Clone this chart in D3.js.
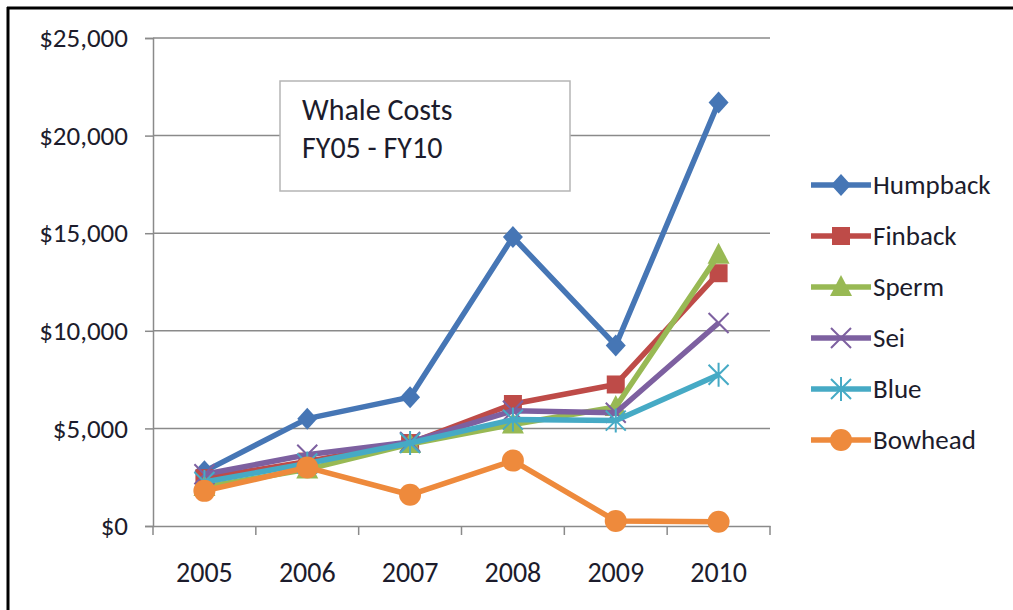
<!DOCTYPE html>
<html>
<head>
<meta charset="utf-8">
<script src="https://cdn.jsdelivr.net/npm/d3@7"></script>
<style>
  body { margin: 0; background: #fff; }
  svg { display: block; font-family: Calibri, Carlito, "Open Sans", "Noto Sans", sans-serif; }
</style>
</head>
<body>
<svg id="chart" width="1013" height="610"></svg>
<script>
const years = ['2005', '2006', '2007', '2008', '2009', '2010'];
const seriesNames = ['Humpback', 'Finback', 'Sperm', 'Sei', 'Blue', 'Bowhead'];
const humpback = [2800, 5500, 6600, 14800, 9250, 21700];
const finback = [2450, 3300, 4250, 6250, 7250, 12950];
const sperm = [2000, 2900, 4200, 5200, 6100, 13900];
const sei = [2650, 3650, 4300, 5900, 5800, 10400];
const blue = [2250, 3200, 4250, 5450, 5400, 7750];
const bowhead = [1800, 3000, 1600, 3350, 260, 220];
const yTicks = [0, 5000, 10000, 15000, 20000, 25000];
const titleLines = ['Whale Costs', 'FY05 - FY10'];

const seriesValues = [humpback, finback, sperm, sei, blue, bowhead];
const colors = ['#4676B5', '#BE4B48', '#98B954', '#7D60A0', '#46AAC5', '#EE8A3C'];
const markers = ['diamond', 'square', 'triangle', 'x', 'star', 'circle'];
const textColor = '#1c1c2c';
const fontStack = 'Calibri, Carlito, "Open Sans", sans-serif';

const svg = d3.select('#chart');
const plot = { left: 153, right: 770, top: 38, bottom: 526 };

const x = d3.scaleBand().domain(years).range([plot.left, plot.right]);
const y = d3.scaleLinear().domain([0, 25000]).range([plot.bottom, plot.top]);

// outer frame (left and top edges only)
svg.append('line').attr('x1', 8).attr('x2', 8).attr('y1', 7).attr('y2', 610)
  .attr('stroke', '#000').attr('stroke-width', 3);
svg.append('line').attr('x1', 7).attr('x2', 1013).attr('y1', 8).attr('y2', 8)
  .attr('stroke', '#000').attr('stroke-width', 3);

// gridlines
svg.append('g').selectAll('line')
  .data(yTicks.filter((d) => d > 0))
  .join('line')
  .attr('x1', plot.left).attr('x2', plot.right)
  .attr('y1', (d) => y(d)).attr('y2', (d) => y(d))
  .attr('stroke', '#8a8a8a').attr('stroke-width', 1.5);

// y axis
const yAxis = svg.append('g')
  .attr('transform', `translate(${plot.left},0)`)
  .call(d3.axisLeft(y).tickValues(yTicks).tickSize(8).tickPadding(17)
    .tickFormat((d) => '$' + d3.format(',')(d)));
yAxis.select('.domain').attr('stroke', '#8a8a8a').attr('stroke-width', 1.5);
yAxis.selectAll('.tick line').attr('stroke', '#8a8a8a').attr('stroke-width', 1.5);
yAxis.selectAll('.tick text').attr('font-size', 27).attr('fill', textColor)
  .attr('font-family', fontStack);

// x axis
const xAxis = svg.append('g')
  .attr('transform', `translate(0,${plot.bottom})`)
  .call(d3.axisBottom(x).tickSize(0).tickPadding(36));
xAxis.select('.domain').attr('stroke', '#8a8a8a').attr('stroke-width', 1.5);
xAxis.selectAll('.tick text').attr('font-size', 28).attr('fill', textColor)
  .attr('font-family', fontStack);
xAxis.append('g').selectAll('line')
  .data(years.map((d) => x(d)).concat([plot.right]))
  .join('line')
  .attr('x1', (d) => d).attr('x2', (d) => d)
  .attr('y1', 0).attr('y2', 9)
  .attr('stroke', '#8a8a8a').attr('stroke-width', 1.5);

// marker drawing
function drawMarker(sel, type, color) {
  if (type === 'diamond') {
    sel.append('path').attr('d', 'M0,-11L10,0L0,11L-10,0Z').attr('fill', color);
  } else if (type === 'square') {
    sel.append('rect').attr('x', -9).attr('y', -9).attr('width', 18).attr('height', 18).attr('fill', color);
  } else if (type === 'triangle') {
    sel.append('path').attr('d', 'M0,-12L11,9L-11,9Z').attr('fill', color);
  } else if (type === 'x') {
    sel.append('path').attr('d', 'M-10,-10L10,10M-10,10L10,-10').attr('stroke', color).attr('stroke-width', 2);
  } else if (type === 'star') {
    sel.append('path').attr('d', 'M-10,-10L10,10M-10,10L10,-10M0,-12L0,12').attr('stroke', color).attr('stroke-width', 2);
  } else if (type === 'circle') {
    sel.append('circle').attr('r', 11).attr('fill', color);
  }
}

const line = d3.line()
  .x((d, i) => x(years[i]) + x.bandwidth() / 2)
  .y((d) => y(d));

// series
seriesNames.forEach((name, si) => {
  const g = svg.append('g');
  g.append('path')
    .datum(seriesValues[si])
    .attr('d', line)
    .attr('fill', 'none')
    .attr('stroke', colors[si])
    .attr('stroke-width', 5.5)
    .attr('stroke-linejoin', 'round');
  seriesValues[si].forEach((v, i) => {
    const m = g.append('g')
      .attr('transform', `translate(${x(years[i]) + x.bandwidth() / 2},${y(v)})`);
    drawMarker(m, markers[si], colors[si]);
  });
});

// title box
svg.append('rect')
  .attr('x', 280).attr('y', 81).attr('width', 290).attr('height', 110)
  .attr('fill', '#fff').attr('stroke', '#b5b5b5').attr('stroke-width', 1.5);
svg.append('g').selectAll('text')
  .data(titleLines)
  .join('text')
  .attr('x', 302)
  .attr('y', (d, i) => 120 + i * 38)
  .attr('font-size', 30)
  .attr('font-family', fontStack)
  .attr('fill', textColor)
  .text((d) => d);

// legend
const legend = svg.append('g');
seriesNames.forEach((name, si) => {
  const ly = 185 + si * 51;
  const lg = legend.append('g');
  lg.append('line').attr('x1', 811).attr('x2', 871).attr('y1', ly).attr('y2', ly)
    .attr('stroke', colors[si]).attr('stroke-width', 5.5);
  const m = lg.append('g').attr('transform', `translate(841,${ly})`);
  drawMarker(m, markers[si], colors[si]);
  lg.append('text').attr('x', 873).attr('y', ly).attr('dy', '0.35em')
    .attr('font-size', 27).attr('font-family', fontStack)
    .attr('fill', textColor).text(name);
});
</script>
</body>
</html>
